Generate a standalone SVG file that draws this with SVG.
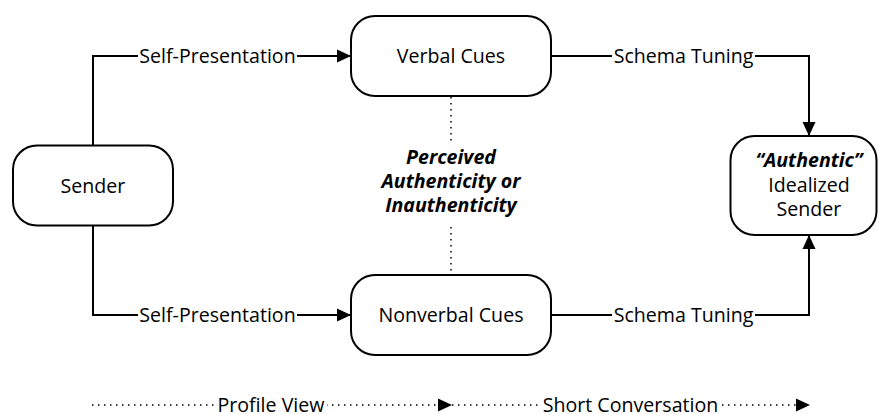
<svg xmlns="http://www.w3.org/2000/svg" width="879" height="414" viewBox="0 0 879 414">
  <style>
    .box { fill: #ffffff; stroke: #000000; stroke-width: 2; }
    .t { font-family: "Open Sans", "Noto Sans", "DejaVu Sans", sans-serif; font-size: 19.6px; fill: #000000; text-anchor: middle; }
    .bi { font-weight: bold; font-style: italic; }
    .edge { fill: none; stroke: #000000; stroke-width: 2; }
    .dot { fill: none; stroke: #000000; stroke-width: 1.5; stroke-dasharray: 1.5 4.5; }
    .bg { fill: #ffffff; stroke: none; }
  </style>
  <defs>
    <marker id="arr" markerUnits="userSpaceOnUse" markerWidth="15" markerHeight="14" refX="14" refY="7" orient="auto">
      <path d="M0,0.5 L14,7 L0,13.5 Z" fill="#000000" stroke="none"/>
    </marker>
  </defs>

  <g id="connectors">
    <path class="edge" d="M93,145 V56 H351" marker-end="url(#arr)"/>
    <path class="edge" d="M93,226 V315 H351" marker-end="url(#arr)"/>
    <path class="edge" d="M551,56 H809 V136" marker-end="url(#arr)"/>
    <path class="edge" d="M551,315 H809 V235" marker-end="url(#arr)"/>
    <path class="dot" d="M451,97 V141"/>
    <path class="dot" d="M451,227 V274"/>
    <path class="dot" d="M92,405 H452" marker-end="url(#arr)"/>
    <path class="dot" d="M452,405 H810" marker-end="url(#arr)"/>

    <rect class="bg" x="138" y="50" width="159" height="12"/>
    <text class="t" x="217.5" y="63">Self-Presentation</text>
    <rect class="bg" x="138" y="309" width="159" height="12"/>
    <text class="t" x="217.5" y="322">Self-Presentation</text>
    <rect class="bg" x="612" y="50" width="143" height="12"/>
    <text class="t" x="683.5" y="63">Schema Tuning</text>
    <rect class="bg" x="612" y="309" width="143" height="12"/>
    <text class="t" x="683.5" y="322">Schema Tuning</text>
    <rect class="bg" x="215" y="399" width="112" height="12"/>
    <text class="t" x="271" y="412">Profile View</text>
    <rect class="bg" x="540" y="399" width="181" height="12"/>
    <text class="t" x="630.5" y="412">Short Conversation</text>
  </g>

  <g id="sender">
    <rect class="box" x="13" y="145.5" width="160" height="80" rx="24" ry="24"/>
    <text class="t" x="93" y="192.5">Sender</text>
  </g>

  <g id="verbal">
    <rect class="box" x="351" y="16" width="200" height="80" rx="24" ry="24"/>
    <text class="t" x="451" y="63">Verbal Cues</text>
  </g>

  <g id="nonverbal">
    <rect class="box" x="351" y="275" width="200" height="80" rx="24" ry="24"/>
    <text class="t" x="451" y="322">Nonverbal Cues</text>
  </g>

  <g id="perceived">
    <text class="t bi" x="451" y="164">Perceived</text>
    <text class="t bi" x="451" y="188">Authenticity or</text>
    <text class="t bi" x="451" y="212">Inauthenticity</text>
  </g>

  <g id="idealized">
    <rect class="box" x="730.5" y="136" width="146" height="99" rx="24" ry="24"/>
    <text class="t bi" x="809" y="167">“Authentic”</text>
    <text class="t" x="809" y="192">Idealized</text>
    <text class="t" x="809" y="216">Sender</text>
  </g>
</svg>
